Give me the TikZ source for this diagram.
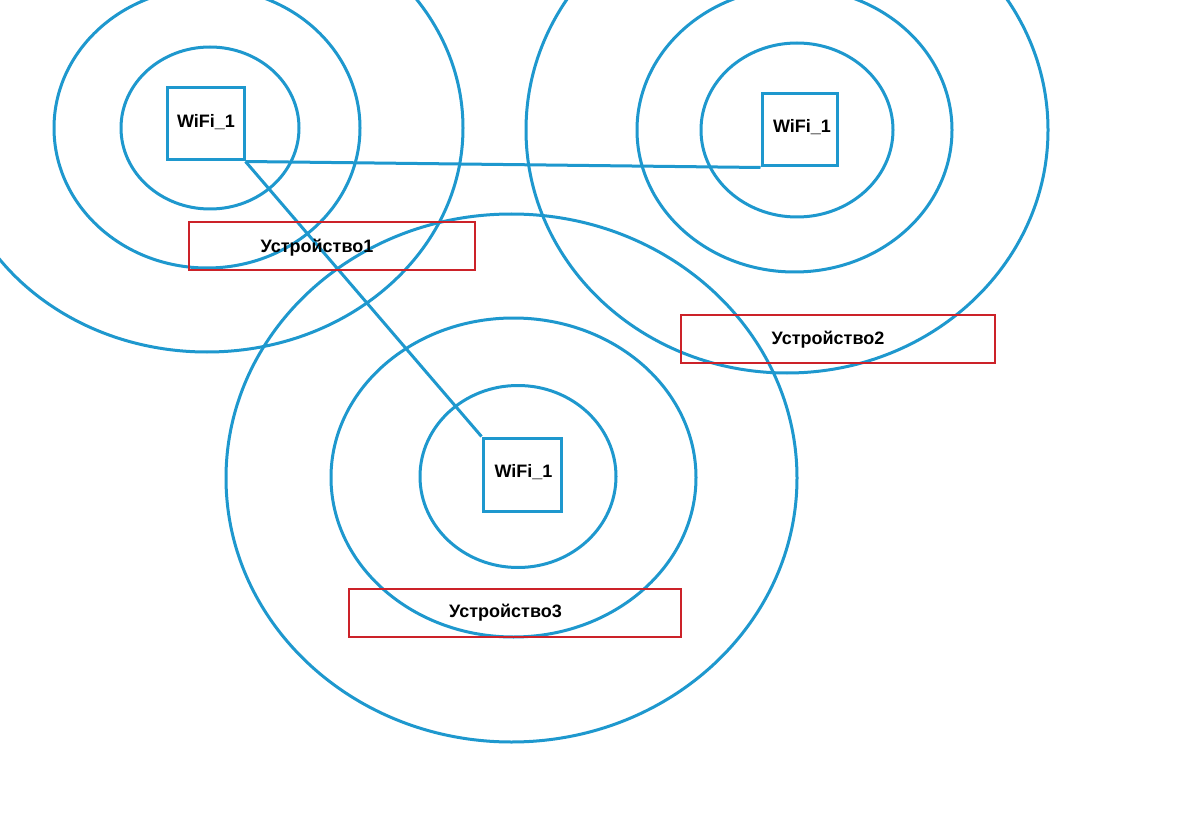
\documentclass[tikz,border=0pt]{standalone}
\usepackage{fontspec}
\setmainfont{Liberation Sans}
\definecolor{wblue}{RGB}{30,152,206}
\definecolor{wred}{RGB}{204,34,41}
\begin{document}
\begin{tikzpicture}[x=1pt,y=-1pt,
  ring/.style={draw=wblue,line width=3pt},
  apbox/.style={draw=wblue,line width=3pt,rectangle,minimum width=77pt,minimum height=72pt,inner sep=0pt},
  devbox/.style={draw=wred,line width=2.8pt,rectangle,minimum height=48pt,inner sep=0pt},
  lbl/.style={font=\fontsize{18}{20}\selectfont\bfseries,inner sep=0pt,text=black},
  link/.style={draw=wblue,line width=3pt}]
\useasboundingbox (0,0) rectangle (1200,821);
\clip (0,0) rectangle (1200,821);
\fill[white] (0,0) rectangle (1200,821);
% rings group 1
\draw[ring] (210,128) ellipse [x radius=89, y radius=81];
\draw[ring] (207,128) ellipse [x radius=153, y radius=140];
\draw[ring] (207,128) ellipse [x radius=256, y radius=224];
% rings group 2
\draw[ring] (797,130) ellipse [x radius=96, y radius=87];
\draw[ring] (794.5,130) ellipse [x radius=157.5, y radius=142];
\draw[ring] (787,130) ellipse [x radius=261, y radius=243];
% rings group 3
\draw[ring] (518,476.5) ellipse [x radius=98, y radius=91];
\draw[ring] (513.5,477.5) ellipse [x radius=182.5, y radius=159.5];
\draw[ring] (511.5,478) ellipse [x radius=285.5, y radius=264];
% access points
\node[apbox] (w1) at (205.5,124) {};
\node[apbox,minimum width=75pt] (w2) at (799.5,130) {};
\node[apbox,minimum width=78pt,minimum height=73pt] (w3) at (522,474.5) {};
\node[lbl] (tw1) at (206,122) {WiFi\_1};
\node[lbl] (tw2) at (802,127) {WiFi\_1};
\node[lbl] (tw3) at (523.5,472) {WiFi\_1};
% links
\draw[link] (w1.south east) -- (w2.south west);
\draw[link] (w1.south east) -- (w3.north west);
% devices
\node[devbox,minimum width=286pt] (d1) at (332,246) {};
\node[devbox,minimum width=314pt] (d2) at (838,339) {};
\node[devbox,minimum width=332pt] (d3) at (515,613) {};
\node[lbl] (td1) at (317,248) {Устройство1};
\node[lbl] (td2) at (828,340) {Устройство2};
\node[lbl] (td3) at (505.5,613) {Устройство3};
\end{tikzpicture}
\end{document}
